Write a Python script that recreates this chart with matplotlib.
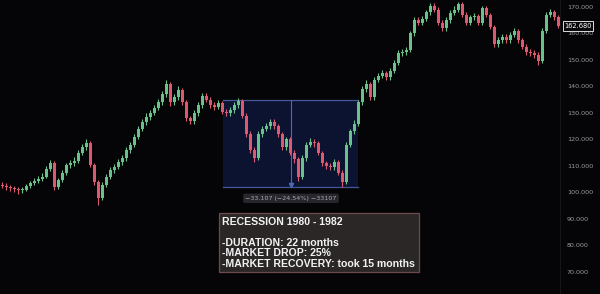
import numpy as np
import matplotlib
matplotlib.use("Agg")
import matplotlib.pyplot as plt
from matplotlib.patches import Rectangle

# monthly candles
opens = [
    103.0, 102.5, 102.0, 101.7, 101.2, 100.8, 101.0, 102.5, 103.6, 104.2,
    105.0, 106.0, 109.0, 111.0, 102.0, 104.7, 107.5, 110.4, 111.0, 112.0,
    115.0, 117.0, 118.7, 110.4, 104.0, 98.0, 102.8, 106.0, 108.5, 109.6,
    111.5, 113.0, 116.0, 118.0, 121.0, 124.0, 126.5, 128.5, 130.0, 132.0,
    134.0, 137.0, 141.0, 134.0, 136.0, 138.7, 134.0, 128.0, 127.0, 130.0,
    133.0, 136.5, 135.0, 133.0, 132.3, 133.8, 130.5, 130.0, 131.0, 133.0,
    134.5, 129.0, 122.0, 116.0, 113.0, 122.0, 124.0, 125.0, 126.6, 125.0,
    122.0, 117.0, 120.0, 115.0, 112.5, 106.0, 113.0, 118.0, 119.0, 118.5,
    115.0, 111.0, 110.0, 109.6, 111.5, 107.5, 104.0, 118.0, 123.0, 126.0,
    134.0, 139.0, 141.0, 136.0, 142.5, 144.0, 145.0, 143.6, 146.0, 149.0,
    152.6, 153.0, 153.8, 160.0, 165.0, 164.0, 165.5, 168.0, 170.5, 169.0,
    164.0, 162.0, 165.0, 167.7, 169.0, 171.0, 167.0, 164.0, 166.0, 166.5,
    164.0, 169.5, 167.0, 162.5, 156.0, 157.5, 158.7, 157.5, 159.5, 161.0,
    157.5, 155.0, 153.0, 152.6, 152.0, 149.5, 161.0, 167.0, 168.0, 166.0,
]
closes = [
    102.5, 102.0, 101.7, 101.2, 100.8, 101.0, 102.5, 103.6, 104.2, 105.0,
    106.0, 109.0, 111.0, 102.0, 104.7, 107.5, 110.4, 111.0, 112.0, 115.0,
    117.0, 118.7, 110.4, 104.0, 98.0, 102.8, 106.0, 108.5, 109.6, 111.5,
    113.0, 116.0, 118.0, 121.0, 124.0, 126.5, 128.5, 130.0, 132.0, 134.0,
    137.0, 141.0, 134.0, 136.0, 138.7, 134.0, 128.0, 127.0, 130.0, 133.0,
    136.5, 135.0, 133.0, 132.3, 133.8, 130.5, 130.0, 131.0, 133.0, 134.5,
    129.0, 122.0, 116.0, 113.0, 122.0, 124.0, 125.0, 126.6, 125.0, 122.0,
    117.0, 120.0, 115.0, 112.5, 106.0, 113.0, 118.0, 119.0, 118.5, 115.0,
    111.0, 110.0, 109.6, 111.5, 107.5, 104.0, 118.0, 123.0, 126.0, 134.0,
    139.0, 141.0, 136.0, 142.5, 144.0, 145.0, 143.6, 146.0, 149.0, 152.6,
    153.0, 153.8, 160.0, 165.0, 164.0, 165.5, 168.0, 170.5, 169.0, 164.0,
    162.0, 165.0, 167.7, 169.0, 171.0, 167.0, 164.0, 166.0, 166.5, 164.0,
    169.5, 167.0, 162.5, 156.0, 157.5, 158.7, 157.5, 159.5, 161.0, 157.5,
    155.0, 153.0, 152.6, 152.0, 149.5, 161.0, 167.0, 168.0, 166.0, 162.68,
]
highs = [
    104.0, 103.4, 103.0, 102.6, 102.0, 102.2, 103.3, 104.5, 105.4, 106.1,
    107.2, 110.0, 112.3, 111.8, 105.6, 108.4, 111.2, 112.4, 113.3, 116.0,
    118.2, 120.0, 119.4, 111.2, 104.8, 103.8, 107.0, 109.6, 110.8, 112.6,
    114.2, 117.1, 119.2, 122.0, 125.1, 127.6, 129.8, 131.2, 133.0, 135.3,
    138.2, 142.5, 141.8, 137.2, 140.0, 139.5, 134.8, 129.0, 131.0, 134.1,
    137.6, 137.4, 136.0, 134.0, 134.9, 134.6, 131.5, 132.1, 134.0, 135.6,
    135.2, 129.8, 123.0, 117.0, 123.0, 125.2, 126.3, 127.8, 127.6, 126.0,
    122.8, 121.0, 120.8, 116.0, 113.3, 114.0, 119.0, 120.4, 120.0, 119.3,
    115.8, 112.0, 111.0, 112.6, 112.3, 108.3, 119.0, 124.0, 127.2, 135.0,
    140.0, 142.3, 141.8, 143.5, 145.2, 146.3, 146.0, 147.0, 150.1, 153.6,
    154.2, 155.0, 161.0, 166.0, 166.0, 166.7, 169.0, 171.6, 171.5, 169.8,
    165.0, 166.0, 168.8, 170.2, 172.0, 171.8, 168.0, 167.0, 167.6, 167.3,
    170.5, 170.3, 167.8, 163.2, 158.6, 159.8, 159.6, 160.6, 162.0, 161.8,
    158.4, 156.0, 154.0, 153.6, 153.0, 162.0, 168.0, 169.2, 169.0, 167.0,
]
lows = [
    101.6, 101.0, 100.5, 100.0, 99.6, 99.8, 100.4, 101.8, 102.9, 103.5,
    104.2, 105.3, 108.0, 101.0, 101.2, 103.8, 106.6, 109.2, 110.1, 111.2,
    114.0, 116.1, 109.5, 102.8, 95.3, 97.0, 101.9, 105.0, 107.4, 108.7,
    110.5, 112.0, 115.0, 117.0, 120.2, 123.0, 125.4, 127.5, 129.1, 131.0,
    133.0, 136.0, 132.8, 133.0, 135.0, 133.0, 126.8, 125.8, 126.0, 129.0,
    132.0, 134.0, 132.0, 131.2, 131.4, 129.5, 129.0, 129.0, 130.0, 132.0,
    128.0, 120.8, 114.8, 111.4, 112.2, 121.0, 123.0, 124.0, 124.0, 121.0,
    116.0, 116.0, 114.0, 111.2, 104.5, 105.0, 112.0, 117.0, 117.3, 114.0,
    110.0, 109.0, 108.4, 108.6, 106.5, 102.0, 103.2, 117.0, 122.0, 125.0,
    133.0, 138.0, 135.0, 135.0, 141.5, 143.0, 142.5, 142.6, 145.0, 148.0,
    151.5, 152.0, 153.0, 159.0, 163.0, 163.0, 164.5, 167.0, 168.0, 163.0,
    160.8, 161.0, 164.0, 166.8, 168.0, 166.0, 163.0, 163.0, 165.0, 163.0,
    163.2, 166.0, 161.5, 155.0, 155.0, 156.5, 156.5, 156.5, 158.5, 156.5,
    154.0, 152.0, 151.5, 150.8, 148.0, 149.0, 160.0, 166.0, 165.0, 162.0,
]

box_start, box_end = 55.25, 89.0     # candle index span of the recession box
box_top, box_bottom = 135.0, 101.9
box_mid = 72.25
measure_label = "\u221233.107 (\u221224.54%) \u221233107"
last_price = 162.68
yticks = np.arange(70, 171, 10)
note_lines = ["RECESSION 1980 - 1982", "-DURATION: 22 months",
              "-MARKET DROP: 25%", "-MARKET RECOVERY: took 15 months"]

bg = "#050507"
up_col = "#6cc08c"
down_col = "#dc5a70"

fig = plt.figure(figsize=(6, 2.94), dpi=100, facecolor=bg)
ax = fig.add_axes([0, 0, 560 / 600, 1])
ax.set_facecolor(bg)

# recession measurement box
ax.add_patch(Rectangle((box_start, box_bottom), box_end - box_start, box_top - box_bottom,
                       facecolor="#0b1331", edgecolor="none", zorder=1))
ax.plot([box_start, box_end], [box_top, box_top], color="#465895", lw=0.9, zorder=2)
ax.plot([box_start, box_end], [box_bottom, box_bottom], color="#465895", lw=0.9, zorder=2)
ax.plot([box_mid, box_mid], [box_top, box_bottom + 0.8], color="#4a6ab8", lw=0.8, zorder=2)
ax.plot([box_mid], [box_bottom + 0.8], marker="v", ms=3, color="#4a6ab8", zorder=2)

x = np.arange(len(closes))
o = np.array(opens)
c = np.array(closes)
h = np.array(highs)
l = np.array(lows)
cols = np.where(c >= o, up_col, down_col)
ax.vlines(x, l, h, colors=cols, lw=0.8, zorder=3)
ax.bar(x, np.maximum(np.abs(c - o), 0.4), bottom=np.minimum(o, c), width=0.75,
       color=cols, zorder=4, linewidth=0)

ax.set_xlim(-0.5, 139.5)
ax.set_ylim(61.7, 172.6)
ax.set_xticks([])
ax.yaxis.tick_right()
ax.set_yticks(yticks)
ax.set_yticklabels(["%.3f" % v for v in yticks])
ax.tick_params(axis="y", length=0, pad=5, labelsize=4.6, labelcolor="#9c9c9c")
for s in ["top", "left", "bottom"]:
    ax.spines[s].set_visible(False)
ax.spines["right"].set_color("#161618")
ax.spines["right"].set_linewidth(0.8)

# measurement label under the box
ax.text(box_mid, 97.8, measure_label, ha="center", va="center", fontsize=4.6,
        color="#a8a8b0", zorder=6,
        bbox=dict(boxstyle="round,pad=0.35", facecolor="#26262c", edgecolor="none"))

# last price tag
fig.text(578 / 600, 1 - 26 / 294, "%.3f" % last_price, ha="center", va="center",
         fontsize=4.8, color="white",
         bbox=dict(boxstyle="square,pad=0.25", facecolor="#0a0a0e", edgecolor="#dcdcdc", lw=0.7))

# annotation box
fig.patches.append(Rectangle((219 / 600, 1 - 271.7 / 294), 200 / 600, 58.4 / 294,
                             transform=fig.transFigure, facecolor="#2b2727",
                             edgecolor="#6e4a4a", lw=0.9, zorder=5))
baselines = [225.0, 245.7, 256.0, 266.8]
for txt, yb in zip(note_lines, baselines):
    fig.text(221.5 / 600, 1 - yb / 294, txt, ha="left", va="baseline",
             fontsize=7.6, fontweight="bold", family="Liberation Sans",
             color="#f2f2f2", zorder=6)

fig.savefig("out.png", dpi=100, facecolor=bg)
